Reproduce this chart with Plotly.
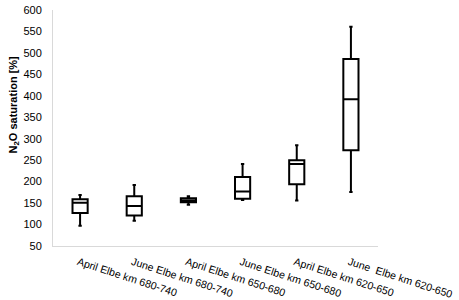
import plotly.graph_objects as go

categories = ["April Elbe km 680-740", "June Elbe km 680-740", "April Elbe km 650-680",
              "June Elbe km 650-680", "April Elbe km 620-650", "June\u00a0 Elbe km 620-650"]
lower = [97, 109, 146, 157, 156, 176]
q1 = [127, 121, 152, 160, 194, 273]
median = [151, 143, 156, 177, 241, 392]
q3 = [159, 166, 161, 211, 250, 486]
upper = [169, 192, 166, 241, 285, 561]
y_ticks = [50, 100, 150, 200, 250, 300, 350, 400, 450, 500, 550, 600]
y_title = "<b>N<sub>2</sub>O saturation [%]</b>"

fig = go.Figure(go.Box(
    x=categories, q1=q1, median=median, q3=q3,
    lowerfence=lower, upperfence=upper,
    fillcolor="white", line=dict(color="black", width=2),
    whiskerwidth=0.22, boxpoints=False, hoverinfo="skip",
))

fig.update_layout(
    width=459, height=300,
    margin=dict(l=53, r=81, t=10, b=54, autoexpand=False),
    paper_bgcolor="white", plot_bgcolor="white",
    font=dict(family="Liberation Sans, Arial, sans-serif", size=11, color="black"),
    showlegend=False, boxgap=0.6,
)
fig.add_annotation(
    text=y_title, textangle=-90, xref="paper", yref="paper",
    x=0, y=0.6, xanchor="center", yanchor="middle", xshift=-39,
    showarrow=False, font=dict(size=11, color="black"),
)
fig.update_xaxes(
    showline=True, linecolor="#d9d9d9", linewidth=1, automargin=False,
    tickangle=18, showgrid=False, ticks="", tickfont=dict(size=10.6),
    ticklabelstandoff=5, ticklabelshift=-2,
)
fig.update_yaxes(
    range=[50, 600], tickvals=y_ticks, showgrid=False, zeroline=False,
    showline=True, linecolor="#d9d9d9", linewidth=1, ticks="", automargin=False,
    ticklabelstandoff=8, tickfont=dict(size=11),
)
fig.write_html("out.html", config={"displayModeBar": False},
               post_script="document.body.style.margin='0';")
